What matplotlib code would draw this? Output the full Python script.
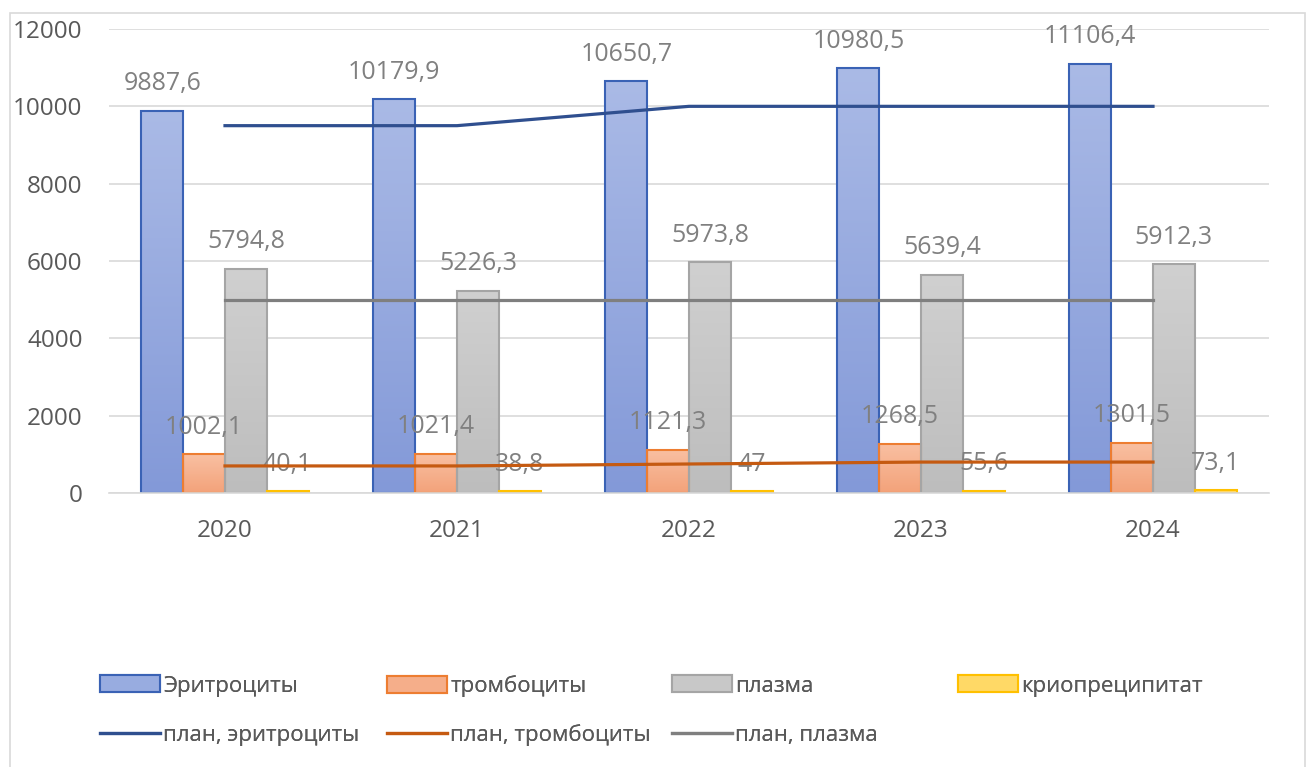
import matplotlib
matplotlib.use("Agg")
import matplotlib.pyplot as plt
import numpy as np
from matplotlib.patches import Rectangle, Patch
from matplotlib.colors import LinearSegmentedColormap

plt.rcParams['font.family'] = ['Open Sans', 'DejaVu Sans']

years = ['2020', '2021', '2022', '2023', '2024']
erythro = [9887.6, 10179.9, 10650.7, 10980.5, 11106.4]
platelets = [1002.1, 1021.4, 1121.3, 1268.5, 1301.5]
plasma = [5794.8, 5226.3, 5973.8, 5639.4, 5912.3]
cryo = [40.1, 38.8, 47, 55.6, 73.1]
erythro_labels = ['9887,6', '10179,9', '10650,7', '10980,5', '11106,4']
platelets_labels = ['1002,1', '1021,4', '1121,3', '1268,5', '1301,5']
plasma_labels = ['5794,8', '5226,3', '5973,8', '5639,4', '5912,3']
cryo_labels = ['40,1', '38,8', '47', '55,6', '73,1']
plan_erythro = [9500, 9500, 10000, 10000, 10000]
plan_platelets = [700, 700, 750, 800, 800]
plan_plasma = [5000, 5000, 5000, 5000, 5000]
yticks = [0, 2000, 4000, 6000, 8000, 10000, 12000]

W, H = 1307, 767
fig = plt.figure(figsize=(W / 100, H / 100), dpi=100)
fig.patches.append(Rectangle((10 / W, -0.01), (1305 - 10) / W, 1 - 13 / H + 0.01,
                             transform=fig.transFigure, fill=False,
                             edgecolor='#d9d9d9', linewidth=1.2))

ax = fig.add_axes([109 / W, 1 - 493 / H, (1269 - 109) / W, (493 - 29) / H])
x = np.arange(len(years))
bw = 0.181
offs = [-0.27, -0.09, 0.09, 0.27]
# (values, labels, top colour, bottom colour, edge colour, legend fill, name)
series = [
    (erythro, erythro_labels, '#AABAE6', '#8399D8', '#3A62B5', '#98ACE0', 'Эритроциты'),
    (platelets, platelets_labels, '#F9C0A2', '#F3A27A', '#ED7D31', '#F5AE8A', 'тромбоциты'),
    (plasma, plasma_labels, '#D0D0D0', '#BDBDBD', '#A5A5A5', '#C8C8C8', 'плазма'),
    (cryo, cryo_labels, '#FFE08A', '#FFD55C', '#FFC000', '#FFD966', 'криопреципитат'),
]
txtc = '#808080'
grad = np.linspace(0, 1, 256).reshape(-1, 1)
bar_handles = []
for (vals, labs, ctop, cbot, ec, fc, name), o in zip(series, offs):
    cmap = LinearSegmentedColormap.from_list(name, [cbot, ctop])
    bars = ax.bar(x + o, vals, bw, facecolor='none', edgecolor=ec, linewidth=1.5, zorder=2.5)
    for b, lab in zip(bars, labs):
        x0, w, h = b.get_x(), b.get_width(), b.get_height()
        ax.imshow(grad, extent=(x0, x0 + w, 0, h), origin='lower', aspect='auto',
                  cmap=cmap, zorder=2, interpolation='bilinear')
        ax.annotate(lab, (x0 + w / 2, h),
                    xytext=(0, 27), textcoords='offset pixels', ha='center', va='center',
                    fontsize=18, color=txtc, zorder=3)
    bar_handles.append(Patch(facecolor=fc, edgecolor=ec, linewidth=1.5, label=name))

line_handles = []
for vals, c, name in [(plan_erythro, '#2F4F8F', 'план, эритроциты'),
                      (plan_platelets, '#C55A11', 'план, тромбоциты'),
                      (plan_plasma, '#7F7F7F', 'план, плазма')]:
    ln, = ax.plot(x, vals, color=c, linewidth=2.3, zorder=4, label=name)
    line_handles.append(ln)

ax.set_xlim(-0.5, len(years) - 0.5)
ax.set_ylim(0, 12000)
ax.set_yticks(yticks)
ax.set_yticklabels([str(t) for t in yticks])
ax.set_xticks(x)
ax.set_xticklabels(years)
ax.tick_params(axis='both', length=0, labelsize=17.5, labelcolor='#595959')
ax.tick_params(axis='y', pad=19)
ax.tick_params(axis='x', pad=19)
ax.grid(axis='y', color='#d9d9d9', linewidth=1.2, zorder=0)
ax.set_axisbelow(True)
for s in ['top', 'right', 'left']:
    ax.spines[s].set_visible(False)
ax.spines['bottom'].set_color('#d9d9d9')
ax.spines['bottom'].set_linewidth(1.2)

fs = 16
hl = 60 / (fs * 100 / 72)
row1_x = [100, 387, 672, 958]
row2_x = [100, 387, 672]
for h, xp in zip(bar_handles, row1_x):
    lg = fig.legend(handles=[h], loc='center left', bbox_to_anchor=(xp / W, 1 - 686 / H),
                    frameon=False, fontsize=fs, handlelength=hl, handleheight=0.8,
                    handletextpad=0.15, borderpad=0, borderaxespad=0, labelcolor='#595959')
    fig.add_artist(lg)
for h, xp in zip(line_handles, row2_x):
    lg = fig.legend(handles=[h], loc='center left', bbox_to_anchor=(xp / W, 1 - 735 / H),
                    frameon=False, fontsize=fs, handlelength=hl,
                    handletextpad=0.15, borderpad=0, borderaxespad=0, labelcolor='#595959')
    fig.add_artist(lg)

fig.savefig('out.png', dpi=100)
